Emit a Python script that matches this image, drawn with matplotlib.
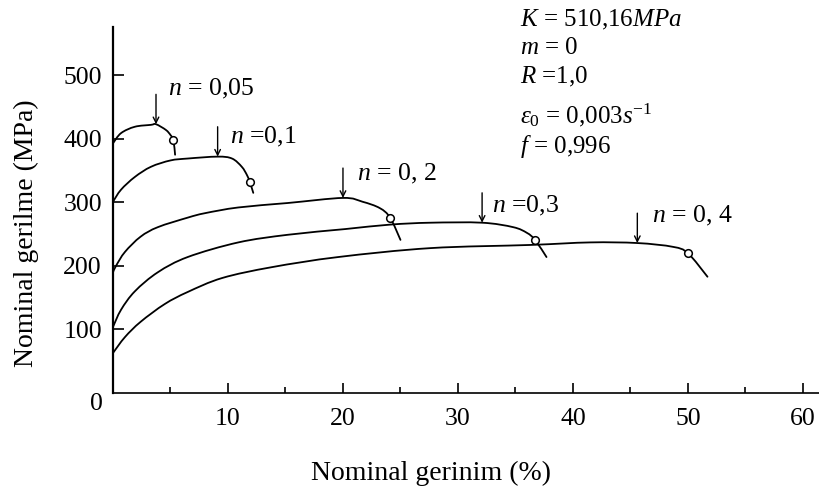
import matplotlib
matplotlib.use("Agg")
import matplotlib.pyplot as plt
from matplotlib.path import Path
from matplotlib.patches import PathPatch
from matplotlib.ticker import MultipleLocator

plt.rcParams["font.family"] = ["Liberation Serif", "DejaVu Serif"]
plt.rcParams["mathtext.fontset"] = "custom"
plt.rcParams["mathtext.rm"] = "Liberation Serif"
plt.rcParams["mathtext.it"] = "Liberation Serif:italic"

# Nominal strain (%) and nominal stress (MPa) for each hardening exponent n
n005_x = [0, 0.7, 1.9, 3.3, 3.74, 4.6, 5.0, 5.25, 5.4]
n005_y = [393, 409, 419, 422, 423, 414, 406, 398, 375]

n01_x = [0, 0.7, 1.9, 3.3, 5.0, 6.5, 9.1, 10.35, 11.2, 11.65, 11.9, 12.2]
n01_y = [301, 320, 340, 356, 366, 369, 372, 369, 356, 343, 332, 315]

n02_x = [0, 0.26, 1.04, 2.4, 3.9, 6.5, 8.0, 10.9, 15.2, 20.0, 21.7, 23.2, 24.1, 25.0]
n02_y = [190, 200, 222, 246, 261, 276, 283, 292, 299, 307, 301, 291, 276, 241]

n03_x = [0, 0.7, 1.9, 3.9, 6.5, 10.9, 15.2, 20.2, 24.1, 27.6, 32.1, 34.8, 36.0, 36.7, 37.7]
n03_y = [104, 131, 160, 190, 214, 237, 249, 258, 265, 268, 268, 261, 252, 241, 214]

n04_x = [0, 1.04, 2.4, 4.5, 6.5, 9.5, 13.8, 19.6, 27.6, 36.3, 41.5, 45.6, 48.7, 50.0, 51.7]
n04_y = [63, 88, 112, 140, 159, 181, 198, 214, 228, 233, 237, 236, 230, 220, 183]

curves = [(n005_x, n005_y), (n01_x, n01_y), (n02_x, n02_y), (n03_x, n03_y), (n04_x, n04_y)]

# Necking onset (arrow) and fracture start (open circle) per curve
arrow_x = [3.74, 9.1, 20.0, 32.1, 45.6]
arrow_y = [423, 372, 307, 268, 236]
circle_x = [5.25, 11.9, 24.1, 36.7, 50.0]
circle_y = [398, 332, 276, 241, 220]
labels = [r"$n$ = 0,05", r"$n$ =0,1", r"$n$ = 0, 2", r"$n$ =0,3", r"$n$ = 0, 4"]
label_x = [4.8, 10.2, 21.2, 33.0, 46.9]
label_y = [479, 403, 344, 295, 279]

param_lines = [r"$K$ = 510,16$MPa$", r"$m$ = 0", r"$R$ =1,0",
               r"$\varepsilon_0$ = 0,003$s^{-1}$", r"$f$ = 0,996"]

x_ticks = [10, 20, 30, 40, 50, 60]
y_ticks = [100, 200, 300, 400, 500]


def smooth_path(xs, ys):
    """Cubic Bezier path through every given point (Catmull-Rom tangents)."""
    pts = list(zip(xs, ys))
    verts = [pts[0]]
    codes = [Path.MOVETO]
    n = len(pts)
    for i in range(n - 1):
        p0 = pts[i - 1] if i > 0 else pts[i]
        p1 = pts[i]
        p2 = pts[i + 1]
        p3 = pts[i + 2] if i + 2 < n else pts[i + 1]
        c1 = (p1[0] + (p2[0] - p0[0]) / 6, p1[1] + (p2[1] - p0[1]) / 6)
        c2 = (p2[0] - (p3[0] - p1[0]) / 6, p2[1] - (p3[1] - p1[1]) / 6)
        verts += [c1, c2, p2]
        codes += [Path.CURVE4] * 3
    return Path(verts, codes)


fig = plt.figure(figsize=(8.19, 4.88), dpi=100)
ax = fig.add_axes([113 / 819, 95 / 488, 706 / 819, 366 / 488])
ax.set_xlim(0, 61.4)
ax.set_ylim(0, 576)

for xs, ys in curves:
    ax.add_patch(PathPatch(smooth_path(xs, ys), facecolor="none",
                           edgecolor="black", lw=1.3, capstyle="round"))

ax.plot(circle_x, circle_y, "o", ms=5.5, mfc="white", mec="black", mew=1.1,
        ls="none", zorder=3)

for xa, ya in zip(arrow_x, arrow_y):
    ax.annotate("", xy=(xa, ya), xytext=(xa, ya + 47),
                arrowprops=dict(arrowstyle="->", color="black", lw=1.0,
                                shrinkA=0, shrinkB=0, mutation_scale=10))

for t, xl, yl in zip(labels, label_x, label_y):
    ax.text(xl, yl, t, fontsize=18.5, ha="left", va="center")

row_y = [20, 48, 77, 115, 147]
for t, py in zip(param_lines, row_y):
    fig.text(520 / 819, 1 - py / 488, t, fontsize=18, ha="left", va="center")

for s in ("top", "right"):
    ax.spines[s].set_visible(False)
ax.spines["left"].set_linewidth(1.6)
ax.spines["bottom"].set_linewidth(1.2)

ax.set_xticks(x_ticks)
ax.xaxis.set_minor_locator(MultipleLocator(5))
ax.set_yticks(y_ticks)
ax.tick_params(axis="x", which="major", direction="in", length=7, width=1.2,
               labelsize=18.5, pad=11)
ax.tick_params(axis="x", which="minor", direction="in", length=4, width=1.2)
ax.tick_params(axis="y", which="major", direction="in", length=8, width=1.2,
               labelsize=18.5, pad=8)

ax.annotate("0", xy=(0, 0), xytext=(-17, -11), textcoords="offset pixels",
            fontsize=18.5, ha="center", va="center")

ax.set_xlabel("Nominal gerinim (%)", fontsize=20, va="center")
ax.xaxis.set_label_coords(0.45, -0.221)
ax.set_ylabel("Nominal gerilme (MPa)", fontsize=20, va="center")
ax.yaxis.set_label_coords(-0.122, 0.437)

fig.savefig("out.png", dpi=100)
